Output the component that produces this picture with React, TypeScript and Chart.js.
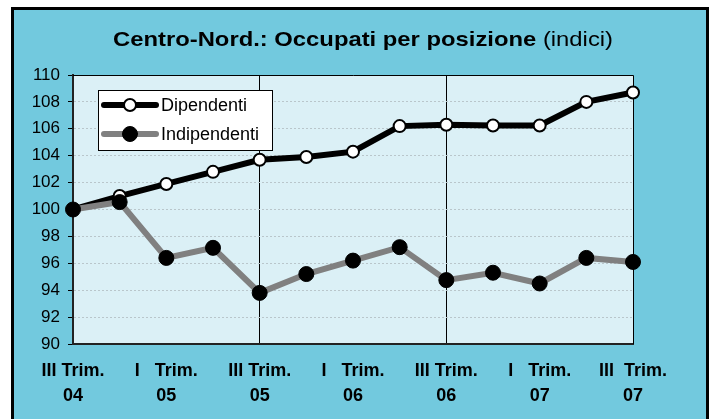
import React, { useEffect, useRef } from "react";
import { Chart, registerables } from "chart.js";

Chart.register(...registerables);

const categories = [
  "III Trim. 04", "IV Trim. 04", "I Trim. 05", "II Trim. 05", "III Trim. 05",
  "IV Trim. 05", "I Trim. 06", "II Trim. 06", "III Trim. 06", "IV Trim. 06",
  "I Trim. 07", "II Trim. 07", "III Trim. 07",
];

const tickLabels: (string | string[])[] = [
  ["III Trim.", "04"], "", ["I   Trim.", "05"], "", ["III Trim.", "05"], "",
  ["I   Trim.", "06"], "", ["III Trim.", "06"], "", ["I   Trim.", "07"], "",
  ["III  Trim.", "07"],
];

const dipendenti = [100.0, 101.0, 101.9, 102.8, 103.7, 103.9, 104.3, 106.2, 106.3, 106.25, 106.25, 108.0, 108.7];
const indipendenti = [100.0, 100.55, 96.4, 97.15, 93.8, 95.2, 96.2, 97.2, 94.75, 95.3, 94.5, 96.4, 96.1];

const yTicksMin = 90;
const yTicksMax = 110;
const yStep = 2;

const titleBold = "Centro-Nord.: Occupati per posizione";
const titleRegular = " (indici)";

const FONT = '"Liberation Sans", Arial, sans-serif';

export default function App() {
  const ref = useRef<HTMLCanvasElement | null>(null);

  useEffect(() => {
    if (!ref.current) return;
    Chart.defaults.font.family = FONT;

    const bgPlugin = {
      id: "bgPlugin",
      beforeDraw(chart: any) {
        const { ctx, chartArea: a } = chart;
        ctx.save();
        ctx.fillStyle = "#DBF0F6";
        ctx.fillRect(a.left, a.top, a.right - a.left, a.bottom - a.top);
        ctx.restore();
      },
      beforeDatasetsDraw(chart: any) {
        const { ctx, chartArea: a } = chart;
        ctx.save();
        ctx.strokeStyle = "#000";
        ctx.lineWidth = 1;
        ctx.beginPath();
        ctx.moveTo(a.left, a.top + 0.5);
        ctx.lineTo(Math.round(a.right) + 0.5, a.top + 0.5);
        ctx.lineTo(Math.round(a.right) + 0.5, a.bottom);
        ctx.stroke();
        ctx.restore();
      },
      afterDraw(chart: any) {
        const { ctx, chartArea: a } = chart;
        // Title
        ctx.save();
        ctx.fillStyle = "#000";
        ctx.textBaseline = "alphabetic";
        ctx.font = `bold 21px ${FONT}`;
        const w1 = ctx.measureText(titleBold).width;
        ctx.font = `21px ${FONT}`;
        const w2 = ctx.measureText(titleRegular).width;
        const target = 500;
        const sx = target / (w1 + w2);
        ctx.translate(349 - target / 2, 36);
        ctx.scale(sx, 1);
        ctx.font = `bold 21px ${FONT}`;
        ctx.fillText(titleBold, 0, 0);
        ctx.font = `21px ${FONT}`;
        ctx.fillText(titleRegular, w1, 0);
        ctx.restore();

        // Legend
        const lx = a.left + 25;
        const ly = a.top + 15;
        const lw = 174;
        const lh = 60;
        ctx.save();
        ctx.fillStyle = "#fff";
        ctx.fillRect(lx, ly, lw, lh);
        ctx.strokeStyle = "#000";
        ctx.lineWidth = 1;
        ctx.strokeRect(lx + 0.5, ly + 0.5, lw, lh);
        const items = [0, 1];
        items.forEach((i) => {
          const ds = chart.data.datasets[i];
          const cy = ly + 15 + i * 29;
          ctx.strokeStyle = ds.borderColor;
          ctx.lineWidth = ds.borderWidth;
          ctx.lineCap = "round";
          ctx.beginPath();
          ctx.moveTo(lx + 6, cy);
          ctx.lineTo(lx + 58, cy);
          ctx.stroke();
          ctx.beginPath();
          ctx.arc(lx + 32, cy, ds.pointRadius, 0, Math.PI * 2);
          ctx.fillStyle = ds.pointBackgroundColor;
          ctx.fill();
          ctx.lineWidth = ds.pointBorderWidth;
          ctx.strokeStyle = ds.pointBorderColor;
          ctx.stroke();
          ctx.fillStyle = "#000";
          ctx.font = `18px ${FONT}`;
          ctx.textBaseline = "middle";
          ctx.fillText(ds.label, lx + 63, cy + 1);
        });
        ctx.restore();
      },
    };

    const chart = new Chart(ref.current, {
      type: "line",
      data: {
        labels: categories,
        datasets: [
          {
            label: "Dipendenti",
            data: dipendenti,
            borderColor: "#000",
            borderWidth: 6,
            pointRadius: 6,
            pointBorderWidth: 2,
            pointBackgroundColor: "#fff",
            pointBorderColor: "#000",
            tension: 0,
            order: 1,
          },
          {
            label: "Indipendenti",
            data: indipendenti,
            borderColor: "#808080",
            borderWidth: 6,
            pointRadius: 7.5,
            pointBorderWidth: 1,
            pointBackgroundColor: "#000",
            pointBorderColor: "#000",
            tension: 0,
            order: 0,
          },
        ],
      },
      options: {
        responsive: false,
        animation: false,
        devicePixelRatio: 1,
        layout: { padding: { left: 0, right: 73, top: 65, bottom: 0 } },
        plugins: {
          legend: { display: false },
          title: { display: false },
          tooltip: { enabled: false },
        },
        scales: {
          x: {
            offset: false,
            afterFit(scale: any) {
              scale.height = 75;
            },
            grid: {
              drawTicks: false,
              color: (c: any) => (c.index === 4 || c.index === 8 ? "#000" : "rgba(0,0,0,0)"),
              lineWidth: 1,
            },
            border: { color: "#222", width: 2 },
            ticks: {
              autoSkip: false,
              maxRotation: 0,
              minRotation: 0,
              padding: 14,
              color: "#000",
              font: { size: 18, weight: "bold", lineHeight: 1.4 },
              callback: (_v: any, i: number) => tickLabels[i],
            },
          },
          y: {
            min: yTicksMin,
            max: yTicksMax,
            afterFit(scale: any) {
              scale.width = 59;
            },
            grid: {
              color: (c: any) =>
                c.tick && (c.tick.value === yTicksMin || c.tick.value === yTicksMax)
                  ? "rgba(0,0,0,0)"
                  : "#B9C6CB",
              tickColor: "#000",
              tickLength: 5,
              tickBorderDash: [1, 0],
              lineWidth: 1,
            },
            border: { color: "#222", width: 2, dash: [2, 2] },
            ticks: {
              stepSize: yStep,
              padding: 8,
              color: "#000",
              font: { size: 17 },
            },
          },
        },
      },
      plugins: [bgPlugin],
    } as any);

    return () => chart.destroy();
  }, []);

  return (
    <div
      style={{
        position: "absolute",
        left: 11,
        top: 7,
        width: 698,
        height: 430,
        border: "3px solid #000",
        boxSizing: "border-box",
        background: "#72C9DE",
      }}
    >
      <canvas ref={ref} width={692} height={409} style={{ display: "block" }} />
    </div>
  );
}
